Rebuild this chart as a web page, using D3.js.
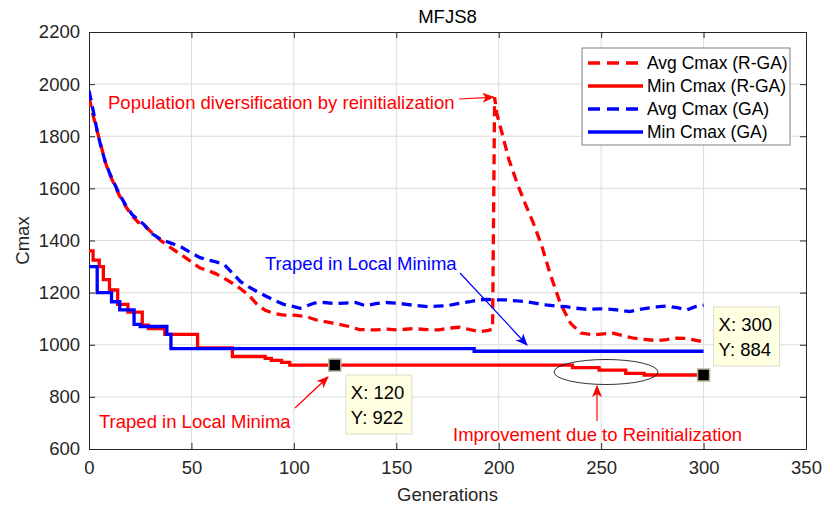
<!DOCTYPE html>
<html>
<head>
<meta charset="utf-8">
<script src="https://cdn.jsdelivr.net/npm/d3@7"></script>
<style>
  body { margin: 0; background: #fff; }
  svg text { font-family: 'Liberation Sans', Arial, sans-serif; }
</style>
</head>
<body>
<div id="chart"></div>
<script>
// generations / values
const avgRgaGen = [0, 2, 4, 6, 8, 10, 12, 15, 18, 21, 24, 27, 30, 35, 40, 45, 50, 54, 58, 62, 66, 70, 74, 78, 82, 86, 90, 95, 100, 106, 111, 119, 127, 132, 140, 145, 151, 158, 165, 171, 176, 181, 186, 191, 195, 197, 198, 199, 202, 205, 209, 213, 217, 221, 225, 230, 235, 240, 246, 251, 256, 261, 266, 271, 277, 282, 287, 292, 297, 300];
const avgRgaVal = [1950, 1880, 1820, 1760, 1700, 1655, 1620, 1570, 1530, 1495, 1470, 1460, 1435, 1400, 1372, 1345, 1318, 1295, 1285, 1272, 1255, 1236, 1215, 1190, 1155, 1132, 1121, 1114, 1114, 1108, 1095, 1083, 1070, 1058, 1057, 1060, 1057, 1062, 1058, 1057, 1064, 1067, 1058, 1050, 1055, 1060, 1950, 1890, 1800, 1710, 1620, 1540, 1465, 1380, 1275, 1160, 1083, 1045, 1038, 1042, 1044, 1034, 1025, 1021, 1016, 1020, 1025, 1024, 1016, 1010];

const minRgaGen = [0, 2, 5, 7, 10, 14, 19, 26, 29, 37, 53, 70, 86, 89, 94, 98, 236, 249, 262, 271, 300];
const minRgaVal = [1360, 1325, 1300, 1250, 1210, 1155, 1125, 1075, 1062, 1040, 988, 955, 948, 940, 932, 922, 912, 903, 890, 884, 884];

const avgGaGen = [0, 2, 4, 6, 8, 10, 12, 15, 18, 21, 24, 27, 30, 35, 40, 45, 50, 54, 58, 62, 66, 70, 74, 78, 82, 86, 90, 95, 100, 103, 106, 110, 115, 120, 125, 130, 135, 140, 145, 150, 155, 160, 166, 170, 175, 180, 186, 190, 194, 200, 204, 209, 214, 219, 223, 228, 233, 238, 243, 249, 255, 260, 264, 268, 272, 277, 282, 287, 292, 296, 300];
const avgGaVal = [1975, 1900, 1820, 1755, 1700, 1660, 1625, 1575, 1535, 1500, 1480, 1460, 1430, 1405, 1390, 1375, 1352, 1335, 1325, 1318, 1308, 1275, 1242, 1222, 1204, 1188, 1172, 1155, 1146, 1140, 1148, 1160, 1162, 1158, 1160, 1162, 1150, 1158, 1162, 1160, 1155, 1150, 1146, 1148, 1150, 1158, 1165, 1172, 1174, 1172, 1172, 1168, 1165, 1158, 1153, 1148, 1146, 1140, 1136, 1138, 1136, 1132, 1127, 1134, 1140, 1145, 1149, 1142, 1134, 1146, 1152];

const minGaGen = [0, 4, 11, 15, 22, 25, 38, 40, 188, 300];
const minGaVal = [1300, 1200, 1165, 1134, 1078, 1070, 1040, 985, 975, 975];

const series = [
  { name: 'Avg Cmax (R-GA)', gen: avgRgaGen, val: avgRgaVal, color: '#ff0000', dash: true, step: false },
  { name: 'Min Cmax (R-GA)', gen: minRgaGen, val: minRgaVal, color: '#ff0000', dash: false, step: true },
  { name: 'Avg Cmax (GA)', gen: avgGaGen, val: avgGaVal, color: '#0000ff', dash: true, step: false },
  { name: 'Min Cmax (GA)', gen: minGaGen, val: minGaVal, color: '#0000ff', dash: false, step: true },
];

const xTicks = [0, 50, 100, 150, 200, 250, 300, 350];
const yTicks = [600, 800, 1000, 1200, 1400, 1600, 1800, 2000, 2200];

// data tips
const tips = [
  { gen: 120, val: 922 },
  { gen: 300, val: 884 },
];

const size = { width: 823, height: 506 };
const margin = { left: 89, top: 32, right: 17, bottom: 57 };
const axisColor = '#262626';
const fs = '18.5px';

const svg = d3.select('#chart').append('svg')
  .attr('width', size.width)
  .attr('height', size.height);

const x = d3.scaleLinear().domain([0, 350]).range([margin.left, size.width - margin.right]);
const y = d3.scaleLinear().domain([600, 2200]).range([size.height - margin.bottom, margin.top]);

const defs = svg.append('defs');
defs.append('clipPath').attr('id', 'plotclip')
  .append('rect')
  .attr('x', x(0)).attr('y', y(2200))
  .attr('width', x(350) - x(0)).attr('height', y(600) - y(2200));

// arrow heads
const marker = (id, color) => {
  defs.append('marker')
    .attr('id', id)
    .attr('viewBox', '0 0 12 10')
    .attr('refX', 11).attr('refY', 5)
    .attr('markerWidth', 13).attr('markerHeight', 10)
    .attr('markerUnits', 'userSpaceOnUse')
    .attr('orient', 'auto')
    .append('path')
    .attr('d', 'M0,0 L12,5 L0,10 L3,5 Z')
    .attr('fill', color);
};
marker('arrRed', '#ff0000');
marker('arrBlue', '#0000ff');

// grid
const grid = svg.append('g');
xTicks.slice(1, -1).forEach((t) => {
  grid.append('line')
    .attr('x1', x(t)).attr('x2', x(t))
    .attr('y1', y(600)).attr('y2', y(2200))
    .attr('stroke', '#dcdcdc').attr('stroke-width', 1);
});
yTicks.slice(1, -1).forEach((t) => {
  grid.append('line')
    .attr('x1', x(0)).attr('x2', x(350))
    .attr('y1', y(t)).attr('y2', y(t))
    .attr('stroke', '#dcdcdc').attr('stroke-width', 1);
});

// axes
const styleAxis = (g) => {
  g.attr('font-family', null).attr('font-size', null);
  g.select('.domain').attr('stroke', axisColor);
  g.selectAll('line').attr('stroke', axisColor);
  g.selectAll('text').attr('fill', axisColor).style('font-size', fs);
};
svg.append('g')
  .attr('transform', `translate(0, ${y(600)})`)
  .call(d3.axisBottom(x).tickValues(xTicks).tickFormat(d3.format('d')).tickSizeInner(-6).tickSizeOuter(0).tickPadding(12))
  .call(styleAxis);
svg.append('g')
  .attr('transform', `translate(${x(0)}, 0)`)
  .call(d3.axisLeft(y).tickValues(yTicks).tickFormat(d3.format('d')).tickSizeInner(-6).tickSizeOuter(0).tickPadding(9))
  .call(styleAxis);
svg.append('g')
  .attr('transform', `translate(0, ${y(2200)})`)
  .call(d3.axisTop(x).tickValues(xTicks).tickSizeInner(-6).tickSizeOuter(0).tickFormat(''))
  .call(styleAxis);
svg.append('g')
  .attr('transform', `translate(${x(350)}, 0)`)
  .call(d3.axisRight(y).tickValues(yTicks).tickSizeInner(-6).tickSizeOuter(0).tickFormat(''))
  .call(styleAxis);

svg.append('text')
  .attr('x', (x(0) + x(350)) / 2).attr('y', 23)
  .attr('text-anchor', 'middle')
  .style('font-size', fs)
  .attr('fill', '#000')
  .text('MFJS8');

svg.append('text')
  .attr('x', (x(0) + x(350)) / 2).attr('y', 501)
  .attr('text-anchor', 'middle')
  .style('font-size', fs)
  .attr('fill', axisColor)
  .text('Generations');

svg.append('text')
  .attr('transform', `translate(29, ${(y(600) + y(2200)) / 2}) rotate(-90)`)
  .attr('text-anchor', 'middle')
  .style('font-size', fs)
  .attr('fill', axisColor)
  .text('Cmax');

// lines
const plot = svg.append('g').attr('clip-path', 'url(#plotclip)');
series.forEach((s) => {
  const pts = s.gen.map((g, i) => [g, s.val[i]]);
  const line = d3.line()
    .x((d) => x(d[0]))
    .y((d) => y(d[1]))
    .curve(s.step ? d3.curveStepAfter : d3.curveLinear);
  plot.append('path')
    .attr('d', line(pts))
    .attr('fill', 'none')
    .attr('stroke', s.color)
    .attr('stroke-width', 3.3)
    .attr('stroke-dasharray', s.dash ? '10,6' : null);
});

// annotations
const ann = svg.append('g').style('font-size', fs);
ann.append('text')
  .attr('x', 108).attr('y', 109)
  .attr('fill', '#ff0000')
  .text('Population diversification by reinitialization');
ann.append('line')
  .attr('x1', 459).attr('y1', 99).attr('x2', x(197.5)).attr('y2', y(1950))
  .attr('stroke', '#ff0000').attr('stroke-width', 1.2)
  .attr('marker-end', 'url(#arrRed)');

ann.append('text')
  .attr('x', 265).attr('y', 270)
  .attr('fill', '#0000ff')
  .text('Traped in Local Minima');
ann.append('line')
  .attr('x1', 460).attr('y1', 273).attr('x2', 527).attr('y2', 345)
  .attr('stroke', '#0000ff').attr('stroke-width', 1.2)
  .attr('marker-end', 'url(#arrBlue)');

ann.append('text')
  .attr('x', 99).attr('y', 428)
  .attr('fill', '#ff0000')
  .text('Traped in Local Minima');
ann.append('line')
  .attr('x1', 295).attr('y1', 408).attr('x2', 328).attr('y2', 377)
  .attr('stroke', '#ff0000').attr('stroke-width', 1.2)
  .attr('marker-end', 'url(#arrRed)');

ann.append('text')
  .attr('x', 453).attr('y', 441)
  .attr('fill', '#ff0000')
  .text('Improvement due to Reinitialization');
ann.append('line')
  .attr('x1', 597).attr('y1', 421).attr('x2', 597).attr('y2', 386)
  .attr('stroke', '#ff0000').attr('stroke-width', 1.2)
  .attr('marker-end', 'url(#arrRed)');

ann.append('ellipse')
  .attr('cx', 606).attr('cy', 372).attr('rx', 52).attr('ry', 12.5)
  .attr('fill', 'none').attr('stroke', '#000').attr('stroke-width', 0.8);

// data tips
tips.forEach((d, i) => {
  svg.append('rect')
    .attr('x', x(d.gen) - 6).attr('y', y(d.val) - 6)
    .attr('width', 12).attr('height', 12)
    .attr('fill', '#000').attr('stroke', '#b8b49a').attr('stroke-width', 1.5);
  const bx = i === 0 ? x(d.gen) + 11 : x(d.gen) + 10;
  const by = i === 0 ? y(d.val) + 10 : y(d.val) - 68;
  const box = svg.append('g').attr('transform', `translate(${bx}, ${by})`);
  box.append('rect')
    .attr('width', 66).attr('height', 59)
    .attr('fill', '#ffffe1').attr('stroke', '#dcdccc').attr('stroke-width', 1);
  box.append('text').attr('x', 5).attr('y', 24)
    .style('font-size', fs).attr('fill', '#000')
    .text(`X: ${d.gen}`);
  box.append('text').attr('x', 5).attr('y', 49)
    .style('font-size', fs).attr('fill', '#000')
    .text(`Y: ${d.val}`);
});

// legend
const legend = svg.append('g').attr('transform', 'translate(582, 48)');
legend.append('rect')
  .attr('width', 208).attr('height', 97)
  .attr('fill', '#fff').attr('stroke', '#7f7f7f').attr('stroke-width', 1);
series.forEach((s, i) => {
  const ly = 15 + i * 23;
  legend.append('line')
    .attr('x1', 6).attr('x2', 61).attr('y1', ly).attr('y2', ly)
    .attr('stroke', s.color).attr('stroke-width', 3.3)
    .attr('stroke-dasharray', s.dash ? '12,7' : null);
  legend.append('text')
    .attr('x', 65).attr('y', ly + 6)
    .style('font-size', '17.5px').attr('fill', '#000')
    .text(s.name);
});
</script>
</body>
</html>
